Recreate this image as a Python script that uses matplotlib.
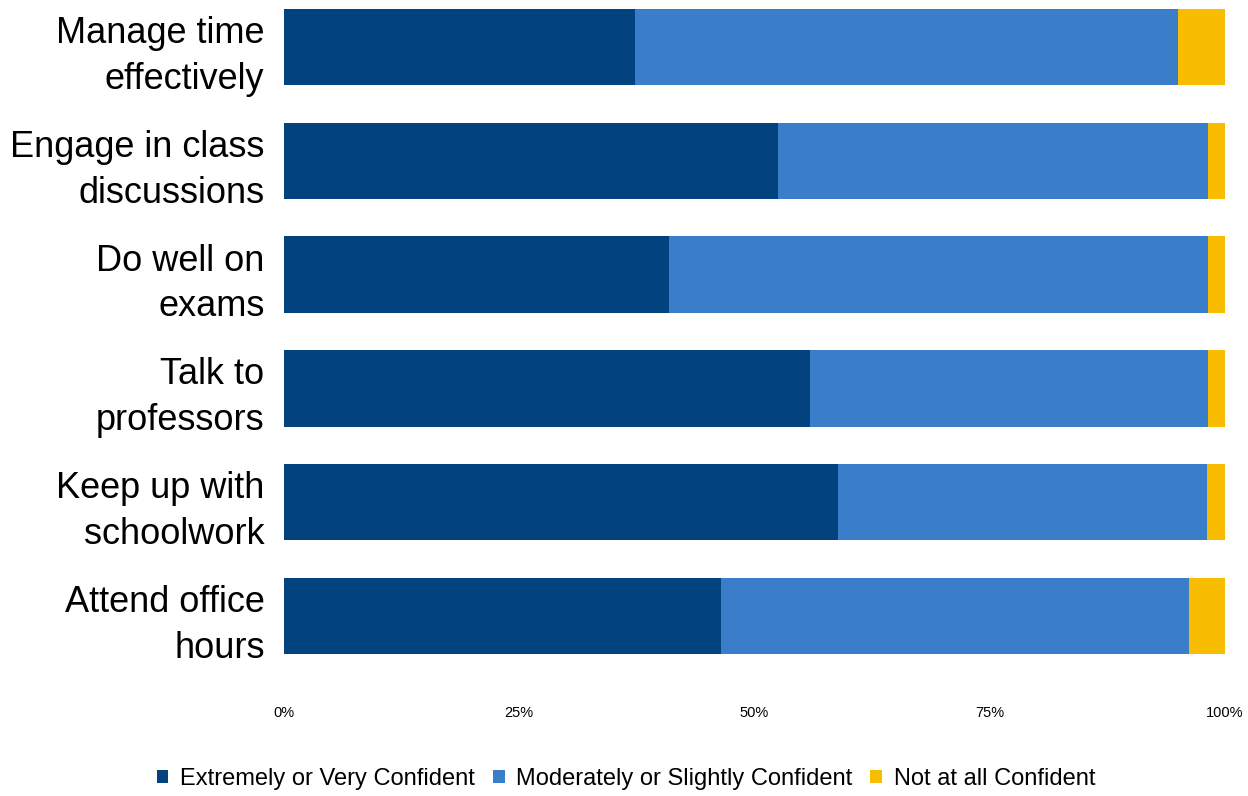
import matplotlib
matplotlib.use("Agg")
import matplotlib.pyplot as plt
import numpy as np

categories = ["Manage time\neffectively", "Engage in class\ndiscussions", "Do well on\nexams",
              "Talk to\nprofessors", "Keep up with\nschoolwork", "Attend office\nhours"]
extremely = [37.3, 52.5, 40.9, 55.9, 58.9, 46.4]
moderately = [57.7, 45.7, 57.3, 42.3, 39.2, 49.8]
not_at_all = [5.0, 1.8, 1.8, 1.8, 1.9, 3.8]
series_names = ["Extremely or Very Confident", "Moderately or Slightly Confident", "Not at all Confident"]
colors = ["#02427F", "#3A7DC8", "#F8BC00"]
xticks = [0, 25, 50, 75, 100]
xticklabels = ["0%", "25%", "50%", "75%", "100%"]

plt.rcParams['font.family'] = ['Liberation Sans', 'DejaVu Sans']
fig = plt.figure(figsize=(12.48, 7.96), dpi=100)
W, H = 1248, 796
left, right, top, bottom = 284, 1225, 0, 680
ax = fig.add_axes([left / W, 1 - bottom / H, (right - left) / W, (bottom - top) / H])

y = np.arange(len(categories))
data = [extremely, moderately, not_at_all]
base = np.zeros(len(categories))
for vals, name, c in zip(data, series_names, colors):
    ax.barh(y, vals, left=base, height=0.67, color=c, label=name)
    base = base + np.array(vals)

ax.set_xlim(0, 100)
ax.set_ylim(5.562, -0.413)
ax.set_yticks(y)
ax.set_yticklabels(categories, fontsize=26, linespacing=1.4)
ax.set_xticks(xticks)
ax.set_xticklabels(xticklabels, fontsize=10.5)
ax.tick_params(axis='both', length=0)
ax.tick_params(axis='y', pad=14)
ax.tick_params(axis='x', pad=19)
for s in ax.spines.values():
    s.set_visible(False)

handles, labels = ax.get_legend_handles_labels()
fig.legend(handles, labels, loc='center', bbox_to_anchor=(626 / W, 1 - 779 / H), ncol=3,
           frameon=False, fontsize=17, handlelength=0.5, handleheight=0.5,
           handletextpad=0.5, columnspacing=0.75)

fig.savefig("out.png", dpi=100)
